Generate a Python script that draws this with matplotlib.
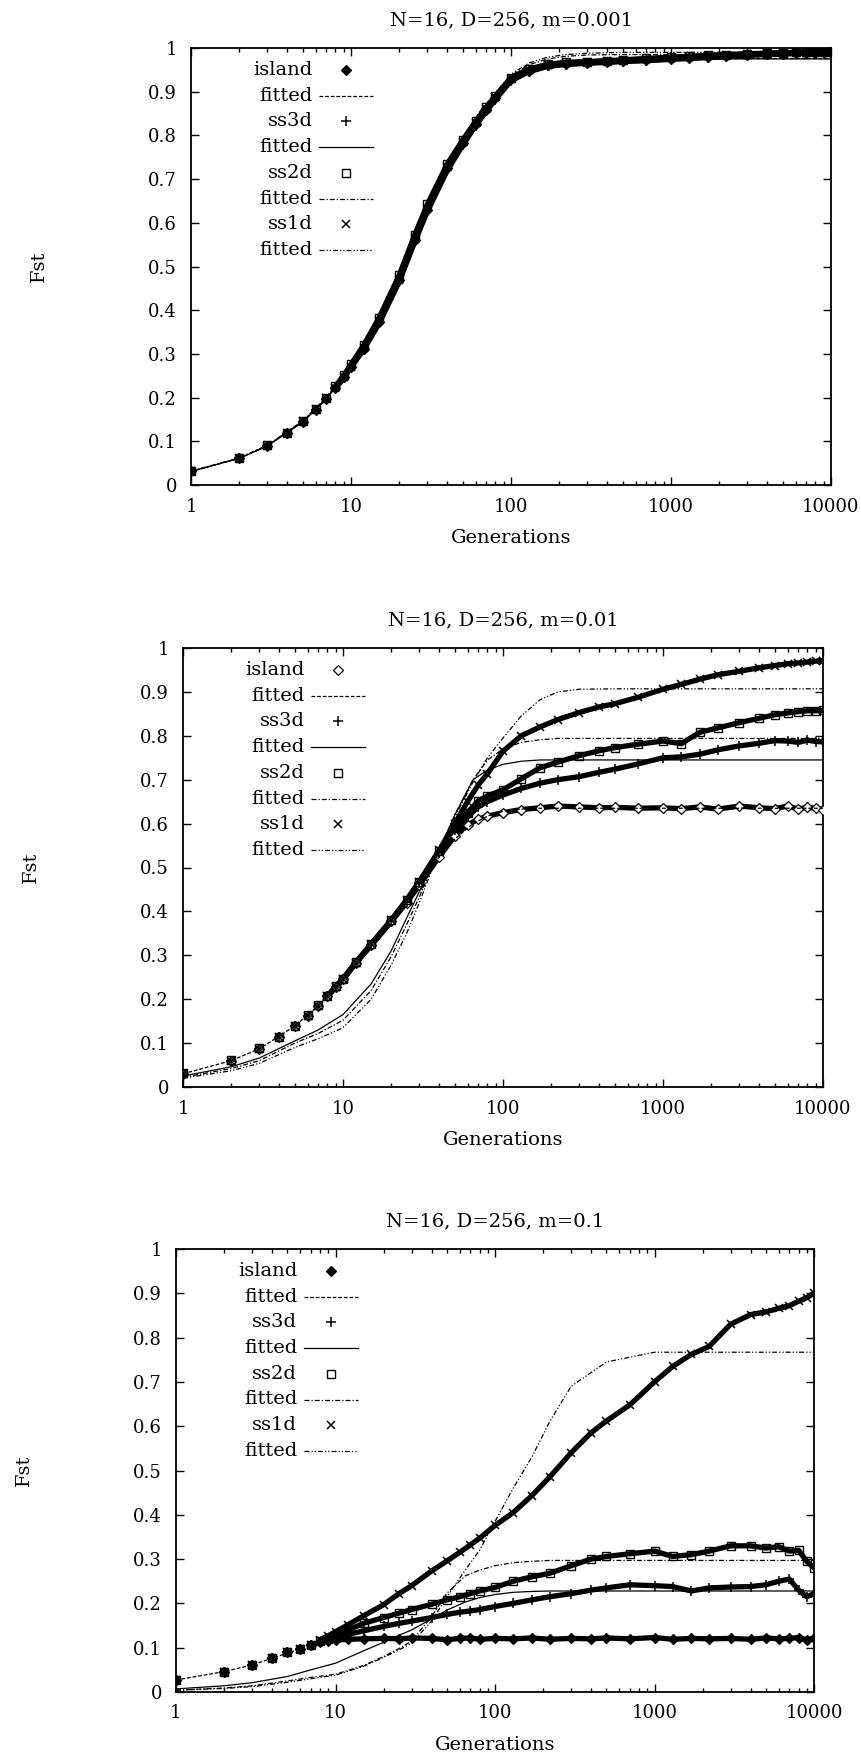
import matplotlib
matplotlib.use("Agg")
import matplotlib.pyplot as plt
from matplotlib.ticker import LogLocator, FixedLocator, FuncFormatter, NullFormatter

plt.rcParams['font.family'] = ['DejaVu Serif']

# ---------------- data ----------------
titles = ["N=16, D=256, m=0.001", "N=16, D=256, m=0.01", "N=16, D=256, m=0.1"]
series_names = ["island", "ss3d", "ss2d", "ss1d"]

# generations at which the simulated data were read
gens = [1, 2, 3, 4, 5, 6, 7, 8, 9, 10, 12, 15, 20, 25, 30, 40, 50, 60, 70, 80,
        100, 130, 170, 220, 300, 400, 500, 700, 1000, 1300, 1700, 2200, 3000,
        4000, 5000, 6000, 7000, 8000, 9000, 10000]
# generations at which the fitted curves were read
fit_gens = [1, 2, 3, 5, 7, 10, 15, 20, 25, 30, 40, 50, 65, 80, 100, 130, 170,
            220, 300, 500, 1000, 10000]

# panel 1 : m=0.001
p1_island = [0.031, 0.061, 0.090, 0.118, 0.145, 0.172, 0.197, 0.222, 0.246, 0.270,
             0.312, 0.372, 0.468, 0.560, 0.630, 0.725, 0.782, 0.825, 0.858, 0.885,
             0.928, 0.948, 0.960, 0.964, 0.966, 0.968, 0.970, 0.972, 0.975, 0.977,
             0.979, 0.981, 0.984, 0.986, 0.987, 0.988, 0.989, 0.989, 0.990, 0.990]
p1_ss3d = [0.031, 0.061, 0.089, 0.117, 0.145, 0.171, 0.196, 0.221, 0.245, 0.269,
           0.310, 0.370, 0.465, 0.556, 0.626, 0.720, 0.778, 0.822, 0.855, 0.882,
           0.925, 0.946, 0.958, 0.962, 0.965, 0.967, 0.969, 0.971, 0.974, 0.976,
           0.978, 0.980, 0.983, 0.985, 0.986, 0.987, 0.988, 0.989, 0.989, 0.990]
p1_ss2d = [0.032, 0.062, 0.091, 0.119, 0.147, 0.174, 0.200, 0.226, 0.251, 0.276,
           0.320, 0.383, 0.480, 0.572, 0.642, 0.735, 0.790, 0.832, 0.864, 0.890,
           0.932, 0.952, 0.963, 0.967, 0.969, 0.971, 0.973, 0.976, 0.979, 0.981,
           0.983, 0.985, 0.987, 0.988, 0.989, 0.990, 0.990, 0.991, 0.991, 0.991]
p1_ss1d = [0.031, 0.061, 0.090, 0.118, 0.146, 0.173, 0.198, 0.223, 0.247, 0.271,
           0.313, 0.375, 0.470, 0.562, 0.633, 0.728, 0.785, 0.828, 0.860, 0.887,
           0.930, 0.950, 0.962, 0.966, 0.968, 0.970, 0.972, 0.975, 0.978, 0.980,
           0.982, 0.984, 0.986, 0.988, 0.989, 0.990, 0.990, 0.991, 0.991, 0.992]
p1_fit_island = [0.031, 0.061, 0.090, 0.145, 0.197, 0.270, 0.372, 0.468, 0.560, 0.630, 0.725,
                 0.782, 0.845, 0.885, 0.925, 0.950, 0.963, 0.970, 0.973, 0.975, 0.976, 0.976]
p1_fit_ss3d = [0.031, 0.061, 0.089, 0.144, 0.196, 0.269, 0.370, 0.465, 0.556, 0.626, 0.720,
               0.778, 0.842, 0.882, 0.922, 0.948, 0.962, 0.969, 0.972, 0.974, 0.975, 0.975]
p1_fit_ss2d = [0.032, 0.062, 0.091, 0.147, 0.200, 0.276, 0.383, 0.480, 0.572, 0.642, 0.738,
               0.795, 0.858, 0.897, 0.937, 0.962, 0.975, 0.981, 0.984, 0.985, 0.985, 0.985]
p1_fit_ss1d = [0.031, 0.061, 0.090, 0.146, 0.198, 0.271, 0.375, 0.472, 0.565, 0.637, 0.735,
               0.793, 0.858, 0.898, 0.940, 0.966, 0.979, 0.985, 0.988, 0.990, 0.990, 0.990]

# panel 2 : m=0.01
p2_island = [0.030, 0.060, 0.087, 0.113, 0.139, 0.162, 0.185, 0.207, 0.227, 0.245,
             0.282, 0.323, 0.377, 0.420, 0.460, 0.525, 0.572, 0.597, 0.610, 0.617,
             0.625, 0.632, 0.636, 0.640, 0.638, 0.636, 0.637, 0.635, 0.636, 0.634,
             0.638, 0.633, 0.640, 0.636, 0.634, 0.640, 0.633, 0.637, 0.635, 0.632]
p2_ss3d = [0.030, 0.060, 0.087, 0.113, 0.139, 0.162, 0.185, 0.207, 0.227, 0.245,
           0.282, 0.323, 0.377, 0.422, 0.464, 0.532, 0.585, 0.615, 0.638, 0.650,
           0.665, 0.680, 0.692, 0.700, 0.707, 0.717, 0.724, 0.736, 0.750, 0.752,
           0.758, 0.768, 0.777, 0.783, 0.789, 0.788, 0.785, 0.790, 0.787, 0.786]
p2_ss2d = [0.031, 0.061, 0.088, 0.114, 0.140, 0.163, 0.186, 0.208, 0.229, 0.247,
           0.284, 0.326, 0.380, 0.426, 0.468, 0.537, 0.593, 0.625, 0.652, 0.663,
           0.677, 0.702, 0.727, 0.740, 0.755, 0.766, 0.773, 0.781, 0.788, 0.782,
           0.808, 0.818, 0.830, 0.840, 0.848, 0.852, 0.855, 0.857, 0.857, 0.858]
p2_ss1d = [0.030, 0.060, 0.087, 0.113, 0.139, 0.162, 0.185, 0.207, 0.228, 0.246,
           0.283, 0.325, 0.380, 0.426, 0.468, 0.540, 0.600, 0.650, 0.688, 0.714,
           0.765, 0.800, 0.820, 0.837, 0.853, 0.866, 0.873, 0.888, 0.906, 0.917,
           0.929, 0.939, 0.947, 0.955, 0.960, 0.964, 0.966, 0.968, 0.970, 0.971]
p2_fit_island = [0.030, 0.060, 0.087, 0.139, 0.185, 0.245, 0.323, 0.377, 0.422, 0.462, 0.525,
                 0.565, 0.600, 0.617, 0.628, 0.633, 0.635, 0.635, 0.635, 0.635, 0.635, 0.635]
p2_fit_ss3d = [0.025, 0.046, 0.066, 0.105, 0.130, 0.165, 0.235, 0.310, 0.385, 0.445, 0.540,
               0.620, 0.700, 0.722, 0.735, 0.742, 0.745, 0.745, 0.745, 0.745, 0.745, 0.745]
p2_fit_ss2d = [0.022, 0.042, 0.060, 0.100, 0.122, 0.152, 0.220, 0.297, 0.370, 0.433, 0.540,
               0.620, 0.700, 0.745, 0.770, 0.785, 0.791, 0.794, 0.794, 0.794, 0.794, 0.794]
p2_fit_ss1d = [0.020, 0.037, 0.054, 0.090, 0.110, 0.135, 0.200, 0.278, 0.350, 0.420, 0.540,
               0.615, 0.695, 0.750, 0.795, 0.845, 0.882, 0.900, 0.906, 0.907, 0.907, 0.907]

# panel 3 : m=0.1
p3_island = [0.027, 0.046, 0.061, 0.076, 0.090, 0.097, 0.106, 0.112, 0.115, 0.117,
             0.119, 0.120, 0.121, 0.120, 0.122, 0.121, 0.118, 0.121, 0.122, 0.119,
             0.121, 0.120, 0.122, 0.119, 0.121, 0.120, 0.122, 0.120, 0.123, 0.119,
             0.121, 0.120, 0.121, 0.119, 0.122, 0.120, 0.121, 0.123, 0.118, 0.121]
p3_ss3d = [0.027, 0.046, 0.061, 0.076, 0.090, 0.097, 0.106, 0.112, 0.117, 0.122,
           0.130, 0.138, 0.148, 0.155, 0.160, 0.168, 0.175, 0.180, 0.183, 0.186,
           0.193, 0.200, 0.208, 0.215, 0.222, 0.230, 0.235, 0.242, 0.240, 0.238,
           0.228, 0.235, 0.237, 0.238, 0.242, 0.250, 0.255, 0.230, 0.215, 0.222]
p3_ss2d = [0.027, 0.046, 0.061, 0.076, 0.090, 0.097, 0.106, 0.114, 0.120, 0.128,
           0.140, 0.155, 0.168, 0.178, 0.186, 0.198, 0.208, 0.215, 0.222, 0.228,
           0.236, 0.250, 0.260, 0.268, 0.285, 0.300, 0.306, 0.312, 0.318, 0.306,
           0.310, 0.318, 0.330, 0.330, 0.325, 0.328, 0.318, 0.320, 0.295, 0.280]
p3_ss1d = [0.027, 0.046, 0.061, 0.076, 0.090, 0.097, 0.106, 0.118, 0.127, 0.136,
           0.152, 0.172, 0.197, 0.222, 0.240, 0.273, 0.296, 0.315, 0.332, 0.347,
           0.376, 0.405, 0.443, 0.485, 0.540, 0.585, 0.612, 0.648, 0.700, 0.735,
           0.762, 0.780, 0.830, 0.852, 0.858, 0.866, 0.872, 0.882, 0.890, 0.900]
p3_fit_island = [0.027, 0.046, 0.061, 0.088, 0.104, 0.114, 0.119, 0.120, 0.121, 0.121, 0.121,
                 0.121, 0.121, 0.121, 0.121, 0.121, 0.121, 0.121, 0.121, 0.121, 0.121, 0.121]
p3_fit_ss3d = [0.007, 0.014, 0.021, 0.035, 0.050, 0.065, 0.093, 0.112, 0.128, 0.140, 0.165,
               0.185, 0.203, 0.213, 0.220, 0.225, 0.227, 0.228, 0.228, 0.228, 0.228, 0.228]
p3_fit_ss2d = [0.004, 0.009, 0.014, 0.025, 0.033, 0.040, 0.060, 0.080, 0.098, 0.115, 0.170,
               0.223, 0.262, 0.275, 0.285, 0.292, 0.295, 0.297, 0.297, 0.297, 0.297, 0.297]
p3_fit_ss1d = [0.004, 0.008, 0.012, 0.022, 0.030, 0.038, 0.058, 0.078, 0.095, 0.110, 0.160,
               0.215, 0.275, 0.320, 0.385, 0.460, 0.530, 0.610, 0.690, 0.745, 0.767, 0.767]

x_ticks = [1, 10, 100, 1000, 10000]
y_ticks = [0, 0.1, 0.2, 0.3, 0.4, 0.5, 0.6, 0.7, 0.8, 0.9, 1.0]

panels = [
    dict(title=titles[0],
         data=[p1_island, p1_ss3d, p1_ss2d, p1_ss1d],
         fits=[p1_fit_island, p1_fit_ss3d, p1_fit_ss2d, p1_fit_ss1d]),
    dict(title=titles[1],
         data=[p2_island, p2_ss3d, p2_ss2d, p2_ss1d],
         fits=[p2_fit_island, p2_fit_ss3d, p2_fit_ss2d, p2_fit_ss1d]),
    dict(title=titles[2],
         data=[p3_island, p3_ss3d, p3_ss2d, p3_ss1d],
         fits=[p3_fit_island, p3_fit_ss3d, p3_fit_ss2d, p3_fit_ss1d]),
]

# ---------------- styles / layout ----------------
W, H = 861, 1757
# (left, top, right, bottom) in pixels
boxes = [(191, 48, 831, 485), (183, 648, 823, 1087), (176, 1249, 814, 1692)]

def marker_style(i, panel_idx):
    if i == 0:
        face = 'white' if panel_idx == 1 else 'black'
        return dict(marker='D', ms=4.6, mfc=face, mec='black', mew=0.9)
    if i == 1:
        return dict(marker='+', ms=7.5, mec='black', mew=1.1)
    if i == 2:
        return dict(marker='s', ms=6.0, mfc='none', mec='black', mew=1.0)
    return dict(marker='x', ms=6.0, mec='black', mew=1.1)

fit_styles = [(0, (3, 1.5)), '-', (0, (4, 1.6, 1, 1.6)), (0, (4, 1.6, 1, 1.6, 1, 1.6))]

fig = plt.figure(figsize=(W / 100, H / 100), dpi=100)

for pi, (p, (l, t, r, b)) in enumerate(zip(panels, boxes)):
    ax = fig.add_axes([l / W, 1 - b / H, (r - l) / W, (b - t) / H])
    ax.set_xscale('log')
    ax.set_xlim(1, 10000)
    ax.set_ylim(0, 1)
    hpx = b - t
    wpx = r - l

    # data bands (dense simulated points) and markers
    for i, vals in enumerate(p['data']):
        ax.plot(gens[7:], vals[7:], color='black', lw=3.8, solid_capstyle='round',
                solid_joinstyle='round', zorder=3)
        ax.plot(gens, vals, ls='none', zorder=4, **marker_style(i, pi))
    # fitted curves
    for i, fv in enumerate(p['fits']):
        ax.plot(fit_gens, fv, color='black', lw=0.9, ls=fit_styles[i], zorder=5)

    # axes styling
    ax.xaxis.set_major_locator(FixedLocator(x_ticks))
    ax.xaxis.set_minor_locator(LogLocator(base=10, subs=range(2, 10), numticks=20))
    ax.xaxis.set_major_formatter(FuncFormatter(lambda v, pos: f"{int(round(v))}"))
    ax.xaxis.set_minor_formatter(NullFormatter())
    ax.yaxis.set_major_locator(FixedLocator(y_ticks))
    ax.yaxis.set_major_formatter(FuncFormatter(lambda v, pos: f"{v:g}"))
    ax.tick_params(which='both', direction='in', top=True, right=True, width=1.0,
                   labelsize=13)
    ax.tick_params(which='major', length=6)
    ax.tick_params(which='minor', length=3)
    ax.tick_params(axis='x', pad=9)
    ax.tick_params(axis='y', pad=10)
    for s in ax.spines.values():
        s.set_linewidth(1.3)

    ax.set_title(p['title'], fontsize=14, y=1 + 28 / hpx, pad=0, va='center')
    ax.set_xlabel('Generations', fontsize=14)
    ax.xaxis.set_label_coords(0.5, -53 / hpx)
    ax.xaxis.label.set_va('center')
    ax.set_ylabel('Fst', fontsize=14)
    ax.yaxis.set_label_coords(-152 / wpx, 0.5)
    ax.yaxis.label.set_va('center')

    # gnuplot-style key: label right-aligned, sample to its right
    y0 = 1 - 22 / hpx
    dy = 25.7 / hpx
    row = 0
    for i, name in enumerate(series_names):
        for kind in ('data', 'fit'):
            yy = y0 - row * dy
            label = name if kind == 'data' else 'fitted'
            ax.text(0.19, yy, label, transform=ax.transAxes, ha='right',
                    va='center', fontsize=14)
            if kind == 'data':
                ax.plot([0.2425], [yy], transform=ax.transAxes, ls='none',
                        **marker_style(i, pi))
            else:
                ax.plot([0.2, 0.285], [yy, yy], transform=ax.transAxes,
                        color='black', lw=0.9, ls=fit_styles[i])
            row += 1

fig.savefig('out.png', dpi=100)
